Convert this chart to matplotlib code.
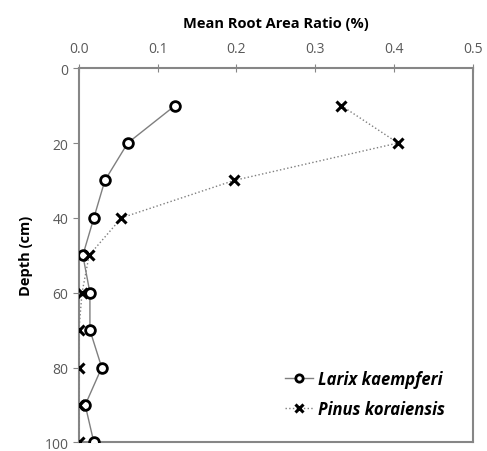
import matplotlib
matplotlib.use("Agg")
import matplotlib.pyplot as plt

plt.rcParams['font.family'] = ['Open Sans', 'DejaVu Sans']

depth = [10, 20, 30, 40, 50, 60, 70, 80, 90, 100]
larix = [0.122, 0.062, 0.033, 0.019, 0.005, 0.014, 0.014, 0.029, 0.008, 0.019]
pinus = [0.333, 0.405, 0.197, 0.054, 0.013, 0.004, 0.0, 0.0, 0.0, 0.0]

fig = plt.figure(figsize=(4.87, 4.52), dpi=100)
ax = fig.add_axes([0.162, 0.019, 0.809, 0.828])

ax.plot(larix, depth, '-', color='#7f7f7f', lw=1.0, marker='o', ms=7,
        mfc='white', mec='black', mew=2.0, label='Larix kaempferi', zorder=3)
ax.plot(pinus, depth, ':', color='#7f7f7f', lw=1.0, marker='x', ms=7,
        mec='black', mew=2.2, label='Pinus koraiensis', zorder=3)

ax.set_xlim(0, 0.5)
ax.set_ylim(100, 0)
ax.set_xticks([0, 0.1, 0.2, 0.3, 0.4, 0.5])
ax.set_xticklabels(['0.0', '0.1', '0.2', '0.3', '0.4', '0.5'])
ax.set_yticks([0, 20, 40, 60, 80, 100])
ax.xaxis.tick_top()
ax.xaxis.set_label_position('top')
ax.tick_params(axis='x', direction='inout', length=6, color='#868686',
               labelcolor='#595959', labelsize=10, pad=6)
ax.tick_params(axis='y', direction='out', length=4, color='#868686',
               labelcolor='#595959', labelsize=10)
for s in ax.spines.values():
    s.set_color('#868686')
    s.set_linewidth(1.5)

ax.set_xlabel('Mean Root Area Ratio (%)', fontsize=10.5, fontweight='bold', labelpad=10)
ax.set_ylabel('Depth (cm)', fontsize=10.5, fontweight='bold', labelpad=8)

leg = ax.legend(loc='lower right', bbox_to_anchor=(0.968, 0.025), frameon=False,
                prop={'style': 'italic', 'weight': 'bold', 'size': 12},
                handlelength=1.7, handletextpad=0.3, labelspacing=0.75,
                markerscale=0.75)

fig.savefig('out.png', dpi=100)
